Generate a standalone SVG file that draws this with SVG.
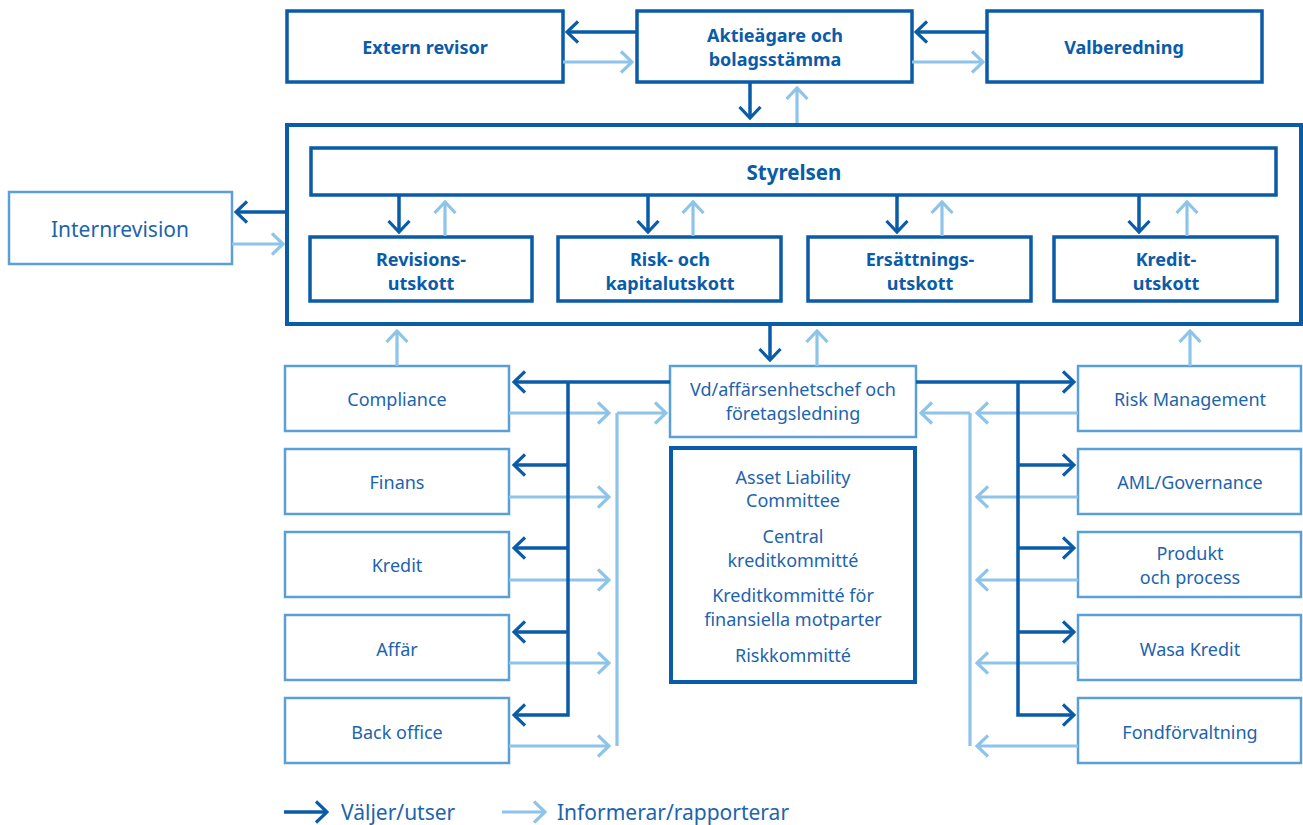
<svg xmlns="http://www.w3.org/2000/svg" width="1303" height="825" viewBox="0 0 1303 825">
<defs>
<marker id="ad" viewBox="0 0 14 24" refX="12" refY="12" markerWidth="14" markerHeight="24" markerUnits="userSpaceOnUse" orient="auto"><path d="M1,1.5 L12,12 L1,22.5" fill="none" stroke="#0a5ba8" stroke-width="3.2"/></marker>
<marker id="al" viewBox="0 0 14 24" refX="12" refY="12" markerWidth="14" markerHeight="24" markerUnits="userSpaceOnUse" orient="auto"><path d="M1,1.5 L12,12 L1,22.5" fill="none" stroke="#8ec4ea" stroke-width="3.2"/></marker>
<style>
.bd{fill:#fff;stroke:#0a5ba8;stroke-width:3.5}
.bl{fill:#fff;stroke:#5b9fd9;stroke-width:2.5}
.tb{font-family:"Noto Sans","Liberation Sans",sans-serif;font-weight:bold;font-size:18px;fill:#0a5ba8;text-anchor:middle;dominant-baseline:central}
.tr{font-family:"Noto Sans","Liberation Sans",sans-serif;font-size:18px;fill:#1c64ad;text-anchor:middle;dominant-baseline:central}
.big{font-size:21px}
.sty{font-size:20.5px}
.st{text-anchor:start}
.cd{fill:none;stroke:#0a5ba8;stroke-width:3.5;marker-end:url(#ad)}
.cl{fill:none;stroke:#8ec4ea;stroke-width:3.2;marker-end:url(#al)}
.ln{fill:none;stroke:#8ec4ea;stroke-width:3.2}
</style>
</defs>
<rect width="1303" height="825" fill="#fff"/>
<g id="extern-revisor"><rect class="bd" x="287" y="11" width="276" height="71"/><text class="tb" x="425" y="47">Extern revisor</text></g>
<g id="aktieagare"><rect class="bd" x="637" y="11" width="275" height="71"/><text class="tb" x="775" y="35">Aktieägare och</text><text class="tb" x="775" y="59">bolagsstämma</text></g>
<g id="valberedning"><rect class="bd" x="987" y="11" width="275" height="71"/><text class="tb" x="1124" y="47">Valberedning</text></g>
<g id="styrelse-ram"><rect class="bd" x="287" y="125" width="1014" height="199" style="stroke-width:4"/></g>
<g id="styrelsen"><rect class="bd" x="311" y="148" width="965" height="47"/><text class="tb sty" x="794" y="172">Styrelsen</text></g>
<g id="revisionsutskott"><rect class="bd" x="310" y="237" width="222" height="64"/><text class="tb" x="421" y="259">Revisions-</text><text class="tb" x="421" y="283">utskott</text></g>
<g id="risk-kapitalutskott"><rect class="bd" x="558" y="237" width="223" height="64"/><text class="tb" x="670" y="259">Risk- och</text><text class="tb" x="670" y="283">kapitalutskott</text></g>
<g id="ersattningsutskott"><rect class="bd" x="808" y="237" width="223" height="64"/><text class="tb" x="920" y="259">Ersättnings-</text><text class="tb" x="920" y="283">utskott</text></g>
<g id="kreditutskott"><rect class="bd" x="1054" y="237" width="223" height="64"/><text class="tb" x="1166" y="259">Kredit-</text><text class="tb" x="1166" y="283">utskott</text></g>
<g id="internrevision"><rect class="bl" x="9" y="192" width="223" height="72"/><text class="tr big" x="120" y="229">Internrevision</text></g>
<g id="vd"><rect class="bl" x="670" y="366" width="246" height="71"/><text class="tr" x="793" y="389">Vd/affärsenhetschef och</text><text class="tr" x="793" y="413">företagsledning</text></g>
<g id="kommitteer"><rect class="bd" x="671" y="448" width="244" height="234" style="stroke-width:4"/>
<text class="tr" x="793" y="477">Asset Liability</text><text class="tr" x="793" y="500">Committee</text>
<text class="tr" x="793" y="536">Central</text><text class="tr" x="793" y="560">kreditkommitté</text>
<text class="tr" x="793" y="595">Kreditkommitté för</text><text class="tr" x="793" y="619">finansiella motparter</text>
<text class="tr" x="793" y="655">Riskkommitté</text></g>
<g id="compliance"><rect class="bl" x="285" y="366" width="224" height="65"/><text class="tr" x="397" y="399">Compliance</text></g>
<g id="finans"><rect class="bl" x="285" y="449" width="224" height="65"/><text class="tr" x="397" y="482">Finans</text></g>
<g id="kredit"><rect class="bl" x="285" y="532" width="224" height="65"/><text class="tr" x="397" y="565">Kredit</text></g>
<g id="affar"><rect class="bl" x="285" y="615" width="224" height="65"/><text class="tr" x="397" y="649">Affär</text></g>
<g id="back-office"><rect class="bl" x="285" y="698" width="224" height="65"/><text class="tr" x="397" y="732">Back office</text></g>
<g id="risk-management"><rect class="bl" x="1078" y="366" width="223" height="65"/><text class="tr" x="1190" y="399">Risk Management</text></g>
<g id="aml"><rect class="bl" x="1078" y="449" width="223" height="65"/><text class="tr" x="1190" y="482">AML/Governance</text></g>
<g id="produkt"><rect class="bl" x="1078" y="532" width="223" height="65"/><text class="tr" x="1190" y="553">Produkt</text><text class="tr" x="1190" y="577">och process</text></g>
<g id="wasa-kredit"><rect class="bl" x="1078" y="615" width="223" height="65"/><text class="tr" x="1190" y="649">Wasa Kredit</text></g>
<g id="fondforvaltning"><rect class="bl" x="1078" y="698" width="223" height="65"/><text class="tr" x="1190" y="732">Fondförvaltning</text></g>
<g id="connectors">
<path class="cd" d="M637,32 H567"/>
<path class="cd" d="M987,32 H916"/>
<path class="cl" d="M563,62 H632"/>
<path class="cl" d="M912,62 H983"/>
<path class="cd" d="M750,82 V118"/>
<path class="cl" d="M797,123 V88"/>
<path class="cd" d="M399,196 V232"/><path class="cd" d="M648,196 V232"/><path class="cd" d="M897,196 V232"/><path class="cd" d="M1139,196 V232"/>
<path class="cl" d="M445,236 V202"/><path class="cl" d="M693,236 V202"/><path class="cl" d="M942,236 V202"/><path class="cl" d="M1187,236 V202"/>
<path class="cd" d="M285,212 H236"/>
<path class="cl" d="M232,244 H283"/>
<path class="cd" d="M770,326 V360"/>
<path class="cl" d="M817,366 V331"/>
<path class="cl" d="M397,366 V331"/>
<path class="cl" d="M1190,366 V331"/>
<path class="ln" d="M617,746 V413"/>
<path class="cl" d="M617,413 H666"/>
<path class="cl" d="M509,413 H609"/><path class="cl" d="M509,497 H609"/><path class="cl" d="M509,580 H609"/><path class="cl" d="M509,663 H609"/><path class="cl" d="M509,746 H609"/>
<path class="ln" d="M970,746 V413"/>
<path class="cl" d="M970,413 H921"/>
<path class="cl" d="M1078,413 H977"/><path class="cl" d="M1078,497 H977"/><path class="cl" d="M1078,580 H977"/><path class="cl" d="M1078,663 H977"/><path class="cl" d="M1078,746 H977"/>
<path class="cd" d="M670,382 H514"/>
<path class="cd" d="M568,382 V715 H514"/>
<path class="cd" d="M568,465 H514"/><path class="cd" d="M568,548 H514"/><path class="cd" d="M568,632 H514"/>
<path class="cd" d="M916,382 H1074"/>
<path class="cd" d="M1018,382 V715 H1074"/>
<path class="cd" d="M1018,465 H1074"/><path class="cd" d="M1018,548 H1074"/><path class="cd" d="M1018,632 H1074"/>
</g>
<g id="legend">
<path class="cd" d="M284,812 H327"/>
<text class="tr big st" x="341" y="812">Väljer/utser</text>
<path class="cl" d="M502,812 H545"/>
<text class="tr big st" x="557" y="812">Informerar/rapporterar</text>
</g>
</svg>
